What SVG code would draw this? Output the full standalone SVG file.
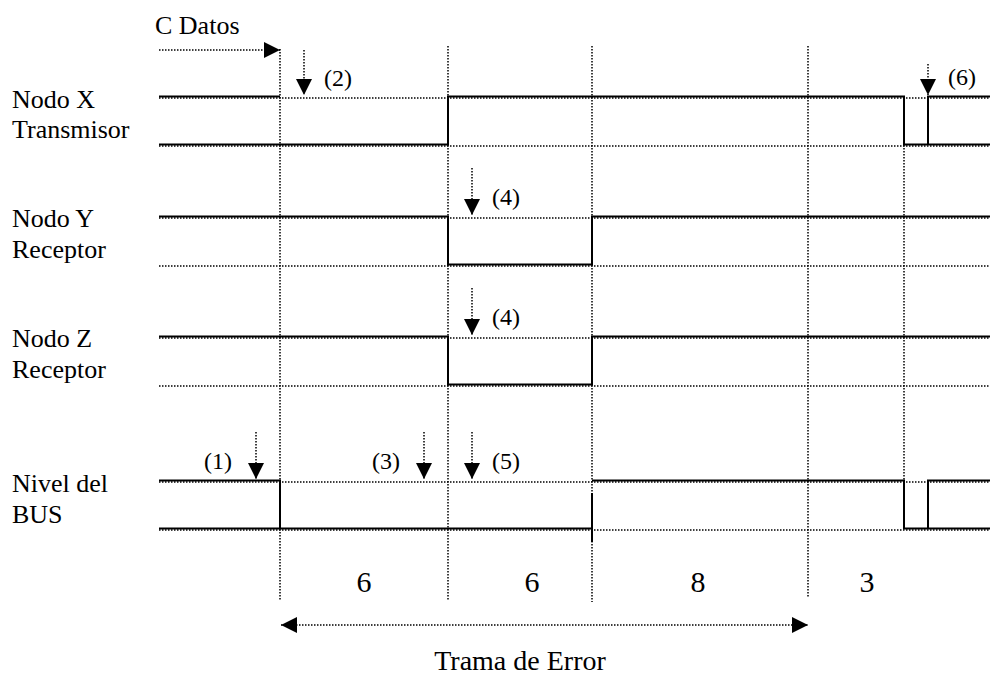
<svg xmlns="http://www.w3.org/2000/svg" width="990" height="688" viewBox="0 0 990 688">
<style>
  .lbl { font-family: "Liberation Serif", "Times New Roman", serif; font-size: 26px; fill: #000; }
  .num { font-family: "Liberation Serif", "Times New Roman", serif; font-size: 30px; fill: #000; }
  .ann { font-family: "Liberation Serif", "Times New Roman", serif; font-size: 24px; fill: #000; }
  .dot { stroke: #000; stroke-width: 1.5; stroke-dasharray: 1.5 1.5; fill: none; }
  .sig { stroke: #000; stroke-width: 2; fill: none; }
  .arr { stroke: #000; stroke-width: 1.5; stroke-dasharray: 1.5 1.5; fill: none; }
</style>
<defs>
  <marker id="ah" viewBox="0 0 10 10" refX="10" refY="5" markerWidth="17" markerHeight="16" markerUnits="userSpaceOnUse" orient="auto">
    <path d="M0,0 L10,5 L0,10 Z" fill="#000"/>
  </marker>
  <marker id="ahs" viewBox="0 0 10 10" refX="0" refY="5" markerWidth="17" markerHeight="16" markerUnits="userSpaceOnUse" orient="auto">
    <path d="M10,0 L0,5 L10,10 Z" fill="#000"/>
  </marker>
</defs>
<rect width="990" height="688" fill="#fff"/>

<g id="grid">
  <line class="dot" x1="280" y1="49" x2="280" y2="600"/>
  <line class="dot" x1="448" y1="46" x2="448" y2="600"/>
  <line class="dot" x1="592" y1="46" x2="592" y2="602"/>
  <line class="dot" x1="808" y1="46" x2="808" y2="598"/>
  <line class="dot" x1="904" y1="97" x2="904" y2="481"/>
</g>

<g id="nodo-x">
  <text class="lbl" x="12" y="108">Nodo X</text>
  <text class="lbl" x="12" y="138">Transmisor</text>
  <line class="dot" x1="159" y1="98" x2="990" y2="98"/>
  <line class="dot" x1="159" y1="146" x2="990" y2="146"/>
  <path class="sig" d="M159,96.5 H280 M159,144.5 H448 V96.5 H904 V144.5 H990 M928,144.5 V96.5 H990"/>
</g>

<g id="nodo-y">
  <text class="lbl" x="12" y="227">Nodo Y</text>
  <text class="lbl" x="12" y="258">Receptor</text>
  <line class="dot" x1="159" y1="218" x2="990" y2="218"/>
  <line class="dot" x1="159" y1="266" x2="990" y2="266"/>
  <path class="sig" d="M159,216.5 H448 V264.5 H592 V216.5 H990"/>
</g>

<g id="nodo-z">
  <text class="lbl" x="12" y="347">Nodo Z</text>
  <text class="lbl" x="12" y="378">Receptor</text>
  <line class="dot" x1="159" y1="338" x2="990" y2="338"/>
  <line class="dot" x1="159" y1="386" x2="990" y2="386"/>
  <path class="sig" d="M159,336.5 H448 V384.5 H592 V336.5 H990"/>
</g>

<g id="bus">
  <text class="lbl" x="12" y="492">Nivel del</text>
  <text class="lbl" x="12" y="523">BUS</text>
  <line class="dot" x1="159" y1="482" x2="990" y2="482"/>
  <line class="dot" x1="159" y1="530" x2="990" y2="530"/>
  <path class="sig" d="M159,480.5 H280 V528.5 M159,528.5 H592 M592,493 V542 M592,480.5 H904 V528.5 H990 M928,528.5 V480.5 H990"/>
</g>

<g id="labels">
  <text class="lbl" x="155" y="34">C Datos</text>
  <text class="ann" x="324" y="86">(2)</text>
  <text class="ann" x="948" y="85">(6)</text>
  <text class="ann" x="492" y="205">(4)</text>
  <text class="ann" x="492" y="325">(4)</text>
  <text class="ann" x="204" y="469">(1)</text>
  <text class="ann" x="372" y="469">(3)</text>
  <text class="ann" x="492" y="469">(5)</text>
  <text class="num" x="364" y="592" text-anchor="middle">6</text>
  <text class="num" x="532" y="592" text-anchor="middle">6</text>
  <text class="num" x="698" y="592" text-anchor="middle">8</text>
  <text class="num" x="867" y="592" text-anchor="middle">3</text>
  <text class="num" x="520" y="670" text-anchor="middle" style="font-size:28px">Trama de Error</text>
</g>

<g id="connectors">
  <line class="arr" x1="159" y1="50" x2="280" y2="50" marker-end="url(#ah)"/>
  <line class="arr" x1="304" y1="50" x2="304" y2="95" marker-end="url(#ah)"/>
  <line class="arr" x1="928" y1="64" x2="928" y2="95" marker-end="url(#ah)"/>
  <line class="arr" x1="472" y1="168" x2="472" y2="215" marker-end="url(#ah)"/>
  <line class="arr" x1="472" y1="288" x2="472" y2="335" marker-end="url(#ah)"/>
  <line class="arr" x1="256" y1="432" x2="256" y2="479" marker-end="url(#ah)"/>
  <line class="arr" x1="424" y1="432" x2="424" y2="479" marker-end="url(#ah)"/>
  <line class="arr" x1="472" y1="432" x2="472" y2="479" marker-end="url(#ah)"/>
  <line class="arr" x1="281" y1="625" x2="808" y2="625" marker-start="url(#ahs)" marker-end="url(#ah)"/>
</g>
</svg>
